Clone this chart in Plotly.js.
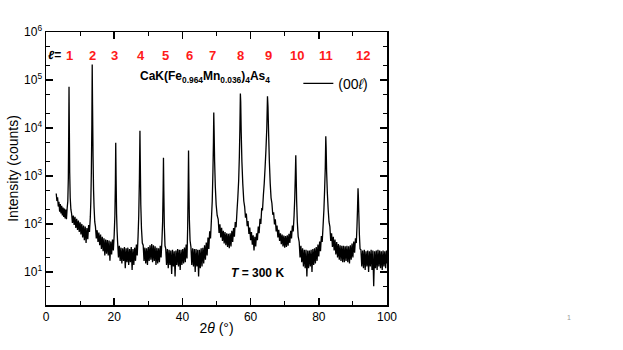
<!DOCTYPE html>
<html>
<head>
<meta charset="utf-8">
<script src="https://cdn.plot.ly/plotly-3.0.1.min.js"></script>
<style>
  body { margin: 0; background: #fff; }
  #plot { width: 623px; height: 350px; }
</style>
</head>
<body>
<div id="plot"></div>
<script>
// 2theta (deg) and intensity (counts)
const twoTheta = [
  3.0, 3.2, 3.4, 3.6, 3.8, 4.0, 4.2, 4.4, 4.6, 4.8, 5.0, 5.2, 5.4, 5.6, 5.8, 6.0, 6.2,
  6.4, 6.55, 6.65, 6.75, 6.85, 6.95, 7.1, 7.3,
  7.5, 7.75, 8.0, 8.25, 8.5, 8.75, 9.0, 9.25, 9.5, 9.75, 10.0, 10.25, 10.5, 10.75, 11.0, 11.25, 11.5, 11.75, 12.0, 12.25, 12.5, 12.75, 13.0,
  13.15, 13.3, 13.45, 13.55, 13.65, 13.8, 13.95, 14.1, 14.3,
  14.5, 14.75, 15.0, 15.25, 15.5, 15.75, 16.0, 16.25, 16.5, 16.75, 17.0, 17.25, 17.5, 17.75, 18.0, 18.25, 18.5, 18.75, 19.0, 19.25, 19.5, 19.75, 20.0,
  20.2, 20.35, 20.45, 20.55, 20.7, 20.85,
  21.0, 21.25, 21.5, 21.75, 22.0, 22.25, 22.5, 22.75, 23.0, 23.25, 23.5, 23.75, 24.0, 24.25, 24.5, 24.75, 25.0, 25.25, 25.5, 25.75, 26.0, 26.25, 26.5, 26.75, 27.0,
  27.2, 27.4, 27.55, 27.65, 27.8, 28.0, 28.25,
  28.5, 28.75, 29.0, 29.25, 29.5, 29.75, 30.0, 30.25, 30.5, 30.75, 31.0, 31.25, 31.5, 31.75, 32.0, 32.25, 32.5, 32.75, 33.0, 33.25, 33.5, 33.75, 34.0,
  34.2, 34.35, 34.45, 34.55, 34.7, 34.9,
  35.1, 35.35, 35.6, 35.85, 36.1, 36.35, 36.6, 36.85, 37.1, 37.35, 37.6, 37.85, 38.1, 38.35, 38.6, 38.85, 39.1, 39.35, 39.6, 39.85, 40.1, 40.35, 40.6, 40.85, 41.1, 41.35,
  41.55, 41.7, 41.8, 41.9, 42.05, 42.25,
  42.5, 42.75, 43.0, 43.25, 43.5, 43.75, 44.0, 44.25, 44.5, 44.75, 45.0, 45.25, 45.5, 45.75, 46.0, 46.25, 46.5, 46.75, 47.0, 47.25, 47.5, 47.75, 48.0, 48.25, 48.5,
  48.75, 48.95, 49.1, 49.2, 49.3, 49.45, 49.65, 49.9, 50.2,
  50.5, 50.75, 51.0, 51.25, 51.5, 51.75, 52.0, 52.25, 52.5, 52.75, 53.0, 53.25, 53.5, 53.75, 54.0, 54.25, 54.5, 54.75, 55.0, 55.25, 55.5, 55.75, 56.0,
  56.25, 56.5, 56.7, 56.85, 57.0, 57.1, 57.25, 57.45, 57.7, 58.0,
  58.25, 58.5, 58.75, 59.0, 59.25, 59.5, 59.75, 60.0, 60.25, 60.5, 60.75, 61.0, 61.25, 61.5, 61.75, 62.0, 62.25, 62.5, 62.75, 63.0, 63.25, 63.5, 63.75,
  64.0, 64.25, 64.5, 64.75, 64.95, 65.1, 65.3, 65.5, 65.75, 66.0,
  66.25, 66.5, 66.75, 67.0, 67.25, 67.5, 67.75, 68.0, 68.25, 68.5, 68.75, 69.0, 69.25, 69.5, 69.75, 70.0, 70.25, 70.5, 70.75, 71.0, 71.25, 71.5, 71.75, 72.0, 72.25, 72.5, 72.75,
  72.95, 73.1, 73.25, 73.35, 73.5, 73.7, 73.95,
  74.25, 74.5, 74.75, 75.0, 75.25, 75.5, 75.75, 76.0, 76.25, 76.5, 76.75, 77.0, 77.25, 77.5, 77.75, 78.0, 78.25, 78.5, 78.75, 79.0, 79.25, 79.5, 79.75, 80.0, 80.25, 80.5, 80.75, 81.0, 81.25,
  81.5, 81.7, 81.9, 82.05, 82.15, 82.3, 82.5, 82.75, 83.0,
  83.25, 83.5, 83.75, 84.0, 84.25, 84.5, 84.75, 85.0, 85.25, 85.5, 85.75, 86.0, 86.25, 86.5, 86.75, 87.0, 87.25, 87.5, 87.75, 88.0, 88.25, 88.5, 88.75, 89.0, 89.25, 89.5, 89.75, 90.0, 90.25, 90.5, 90.75, 91.0,
  91.2, 91.35, 91.5, 91.6, 91.75, 91.9, 92.1,
  92.35, 92.6, 92.85, 93.1, 93.35, 93.6, 93.85, 94.1, 94.35, 94.6, 94.85, 95.1, 95.35, 95.6, 95.85, 96.1, 96.35, 96.6, 96.85, 97.1, 97.35, 97.6, 97.85, 98.1, 98.35, 98.6, 98.85, 99.1, 99.35, 99.6, 99.85, 100
];
const counts = [
  430, 300, 360, 230, 290, 180, 260, 165, 240, 150, 220, 140, 210, 130, 200, 125, 210,
  300, 900, 6000, 72000, 9000, 1200, 350, 200,
  165, 105, 150, 95, 140, 82, 128, 75, 118, 68, 108, 60, 100, 52, 92, 46, 88, 40, 82, 48, 95, 68, 140,
  300, 1200, 12000, 210000, 30000, 2500, 500, 220, 110,
  88, 50, 74, 42, 66, 36, 60, 30, 54, 27, 50, 22, 47, 24, 46, 22, 45, 17, 43, 23, 47, 28, 60,
  150, 700, 4900, 1000, 160, 70,
  42, 20, 35, 17, 32, 15, 31, 17, 33, 12, 31, 16, 32, 14, 30, 16, 33, 11, 30, 14, 32, 17, 37, 22, 55,
  150, 900, 8700, 2000, 250, 80, 40,
  36, 17, 32, 15, 31, 14, 33, 17, 36, 18, 38, 16, 36, 17, 34, 14, 32, 15, 31, 16, 35, 20, 45,
  110, 500, 2400, 500, 90, 35,
  31, 14, 30, 12, 29, 14, 28, 9, 29, 13, 27, 8, 28, 14, 30, 13, 29, 11, 29, 14, 30, 15, 32, 16, 37, 19,
  90, 600, 3400, 700, 120, 45,
  33, 14, 31, 13, 30, 10, 30, 13, 29, 8, 29, 12, 31, 13, 32, 15, 36, 18, 41, 22, 52, 30, 70, 50, 120,
  300, 1200, 5000, 21000, 9000, 2000, 600, 250, 150,
  125, 65, 98, 52, 83, 44, 72, 39, 68, 36, 64, 33, 62, 31, 64, 34, 72, 42, 82, 54, 110, 85, 180,
  350, 800, 2500, 9000, 52000, 35000, 8000, 2000, 700, 300,
  230, 135, 165, 90, 115, 62, 84, 46, 68, 37, 58, 28, 54, 34, 64, 46, 88, 64, 128, 100, 205, 200, 400,
  700, 1500, 3500, 10000, 46000, 28000, 7000, 2000, 700, 350,
  270, 155, 175, 98, 125, 70, 93, 52, 75, 44, 64, 38, 60, 34, 57, 32, 56, 33, 58, 35, 62, 40, 72, 50, 92, 70, 150,
  350, 900, 2700, 1200, 300, 110, 55,
  42, 20, 35, 16, 31, 13, 29, 12, 29, 8, 28, 12, 28, 13, 29, 10, 30, 14, 31, 15, 33, 17, 37, 21, 43, 27, 56, 42, 90,
  200, 500, 1500, 6700, 4000, 1200, 450, 200, 110,
  88, 44, 64, 33, 54, 28, 47, 23, 42, 20, 38, 18, 36, 17, 35, 16, 35, 16, 34, 17, 35, 16, 34, 15, 36, 18, 39, 20, 43, 25, 50, 40,
  90, 200, 550, 380, 150, 60, 30,
  29, 13, 28, 12, 29, 11, 27, 13, 28, 10, 27, 13, 29, 11, 28, 5, 27, 12, 28, 11, 29, 13, 28, 12, 27, 11, 28, 13, 27, 12, 28, 15
];

const orderLabels = ['1', '2', '3', '4', '5', '6', '7', '8', '9', '10', '11', '12'];
const orderLabelX = [7.0, 13.6, 20.2, 27.8, 34.9, 42.0, 48.9, 56.9, 65.3, 73.5, 82.0, 92.9];

const yTickVals = [1, 10, 100, 1000, 10000, 100000, 1000000];
const yTickText = ['10<sup>0</sup>', '10<sup>1</sup>', '10<sup>2</sup>', '10<sup>3</sup>',
                   '10<sup>4</sup>', '10<sup>5</sup>', '10<sup>6</sup>'];

const font = 'Arial, "Liberation Sans", sans-serif';

let trace = {
  x: twoTheta,
  y: counts,
  mode: 'lines',
  type: 'scatter',
  name: '(00<i>ℓ</i>)',
  line: { color: '#000', width: 1.3, simplify: false },
};

let annotations = orderLabels.map((t, i) => ({
  x: orderLabelX[i], xref: 'x',
  y: 0.915, yref: 'paper', yanchor: 'middle',
  text: '<b>' + t + '</b>',
  showarrow: false,
  font: { family: font, size: 13, color: '#ff1a1a' },
}));
annotations.push({
  x: 2.6, xref: 'x', y: 0.915, yref: 'paper', yanchor: 'middle',
  text: '<b><i>ℓ</i>=</b>', showarrow: false,
  font: { family: font, size: 12, color: '#000' },
});
annotations.push({
  x: 46.5, xref: 'x', y: 0.835, yref: 'paper', yanchor: 'middle',
  text: '<b>CaK(Fe<sub>0.964</sub>Mn<sub>0.036</sub>)<sub>4</sub>As<sub>4</sub></b>',
  showarrow: false,
  font: { family: font, size: 12, color: '#000' },
});
annotations.push({
  x: 62, xref: 'x', y: 0.117, yref: 'paper', yanchor: 'middle',
  text: '<b><i>T</i> = 300 K</b>', showarrow: false,
  font: { family: font, size: 12, color: '#000' },
});
annotations.push({
  x: 1.545, xref: 'paper', y: -0.066, yref: 'paper',
  text: '1', showarrow: false,
  font: { family: font, size: 7, color: '#999' },
});

let layout = {
  width: 623, height: 350,
  margin: { l: 46, r: 236, t: 32, b: 45 },
  paper_bgcolor: '#fff', plot_bgcolor: '#fff',
  font: { family: font, size: 12, color: '#000' },
  showlegend: true,
  legend: {
    x: 0.74, y: 0.81, xanchor: 'left', yanchor: 'middle',
    bgcolor: 'rgba(0,0,0,0)',
    font: { family: font, size: 14, color: '#000' },
  },
  xaxis: {
    range: [0, 100],
    tick0: 0, dtick: 20, ticks: 'inside', ticklen: 7, tickwidth: 1.5, tickcolor: '#000',
    minor: { tick0: 0, dtick: 10, ticks: 'inside', ticklen: 4, tickwidth: 1.2, tickcolor: '#000' },
    showline: true, linewidth: 1.5, linecolor: '#000', mirror: 'ticks',
    showgrid: false, zeroline: false, layer: 'above traces',
    tickfont: { family: font, size: 12 },
    title: { text: '2<i>θ</i> (°)', font: { family: font, size: 14 }, standoff: 0 },
  },
  yaxis: {
    type: 'log',
    range: [0.31, 6],
    tickmode: 'array', tickvals: yTickVals, ticktext: yTickText,
    ticks: 'inside', ticklen: 7, tickwidth: 1.5, tickcolor: '#000',
    minor: { ticks: 'inside', ticklen: 4, tickwidth: 1.2, tickcolor: '#000' },
    showline: true, linewidth: 1.5, linecolor: '#000', mirror: 'ticks',
    showgrid: false, zeroline: false, layer: 'above traces',
    tickfont: { family: font, size: 12 },
    title: { text: 'Intensity (counts)', font: { family: font, size: 14 }, standoff: 2 },
  },
  annotations: annotations,
};

Plotly.newPlot('plot', [trace], layout, { displayModeBar: false, staticPlot: true });
</script>
</body>
</html>
